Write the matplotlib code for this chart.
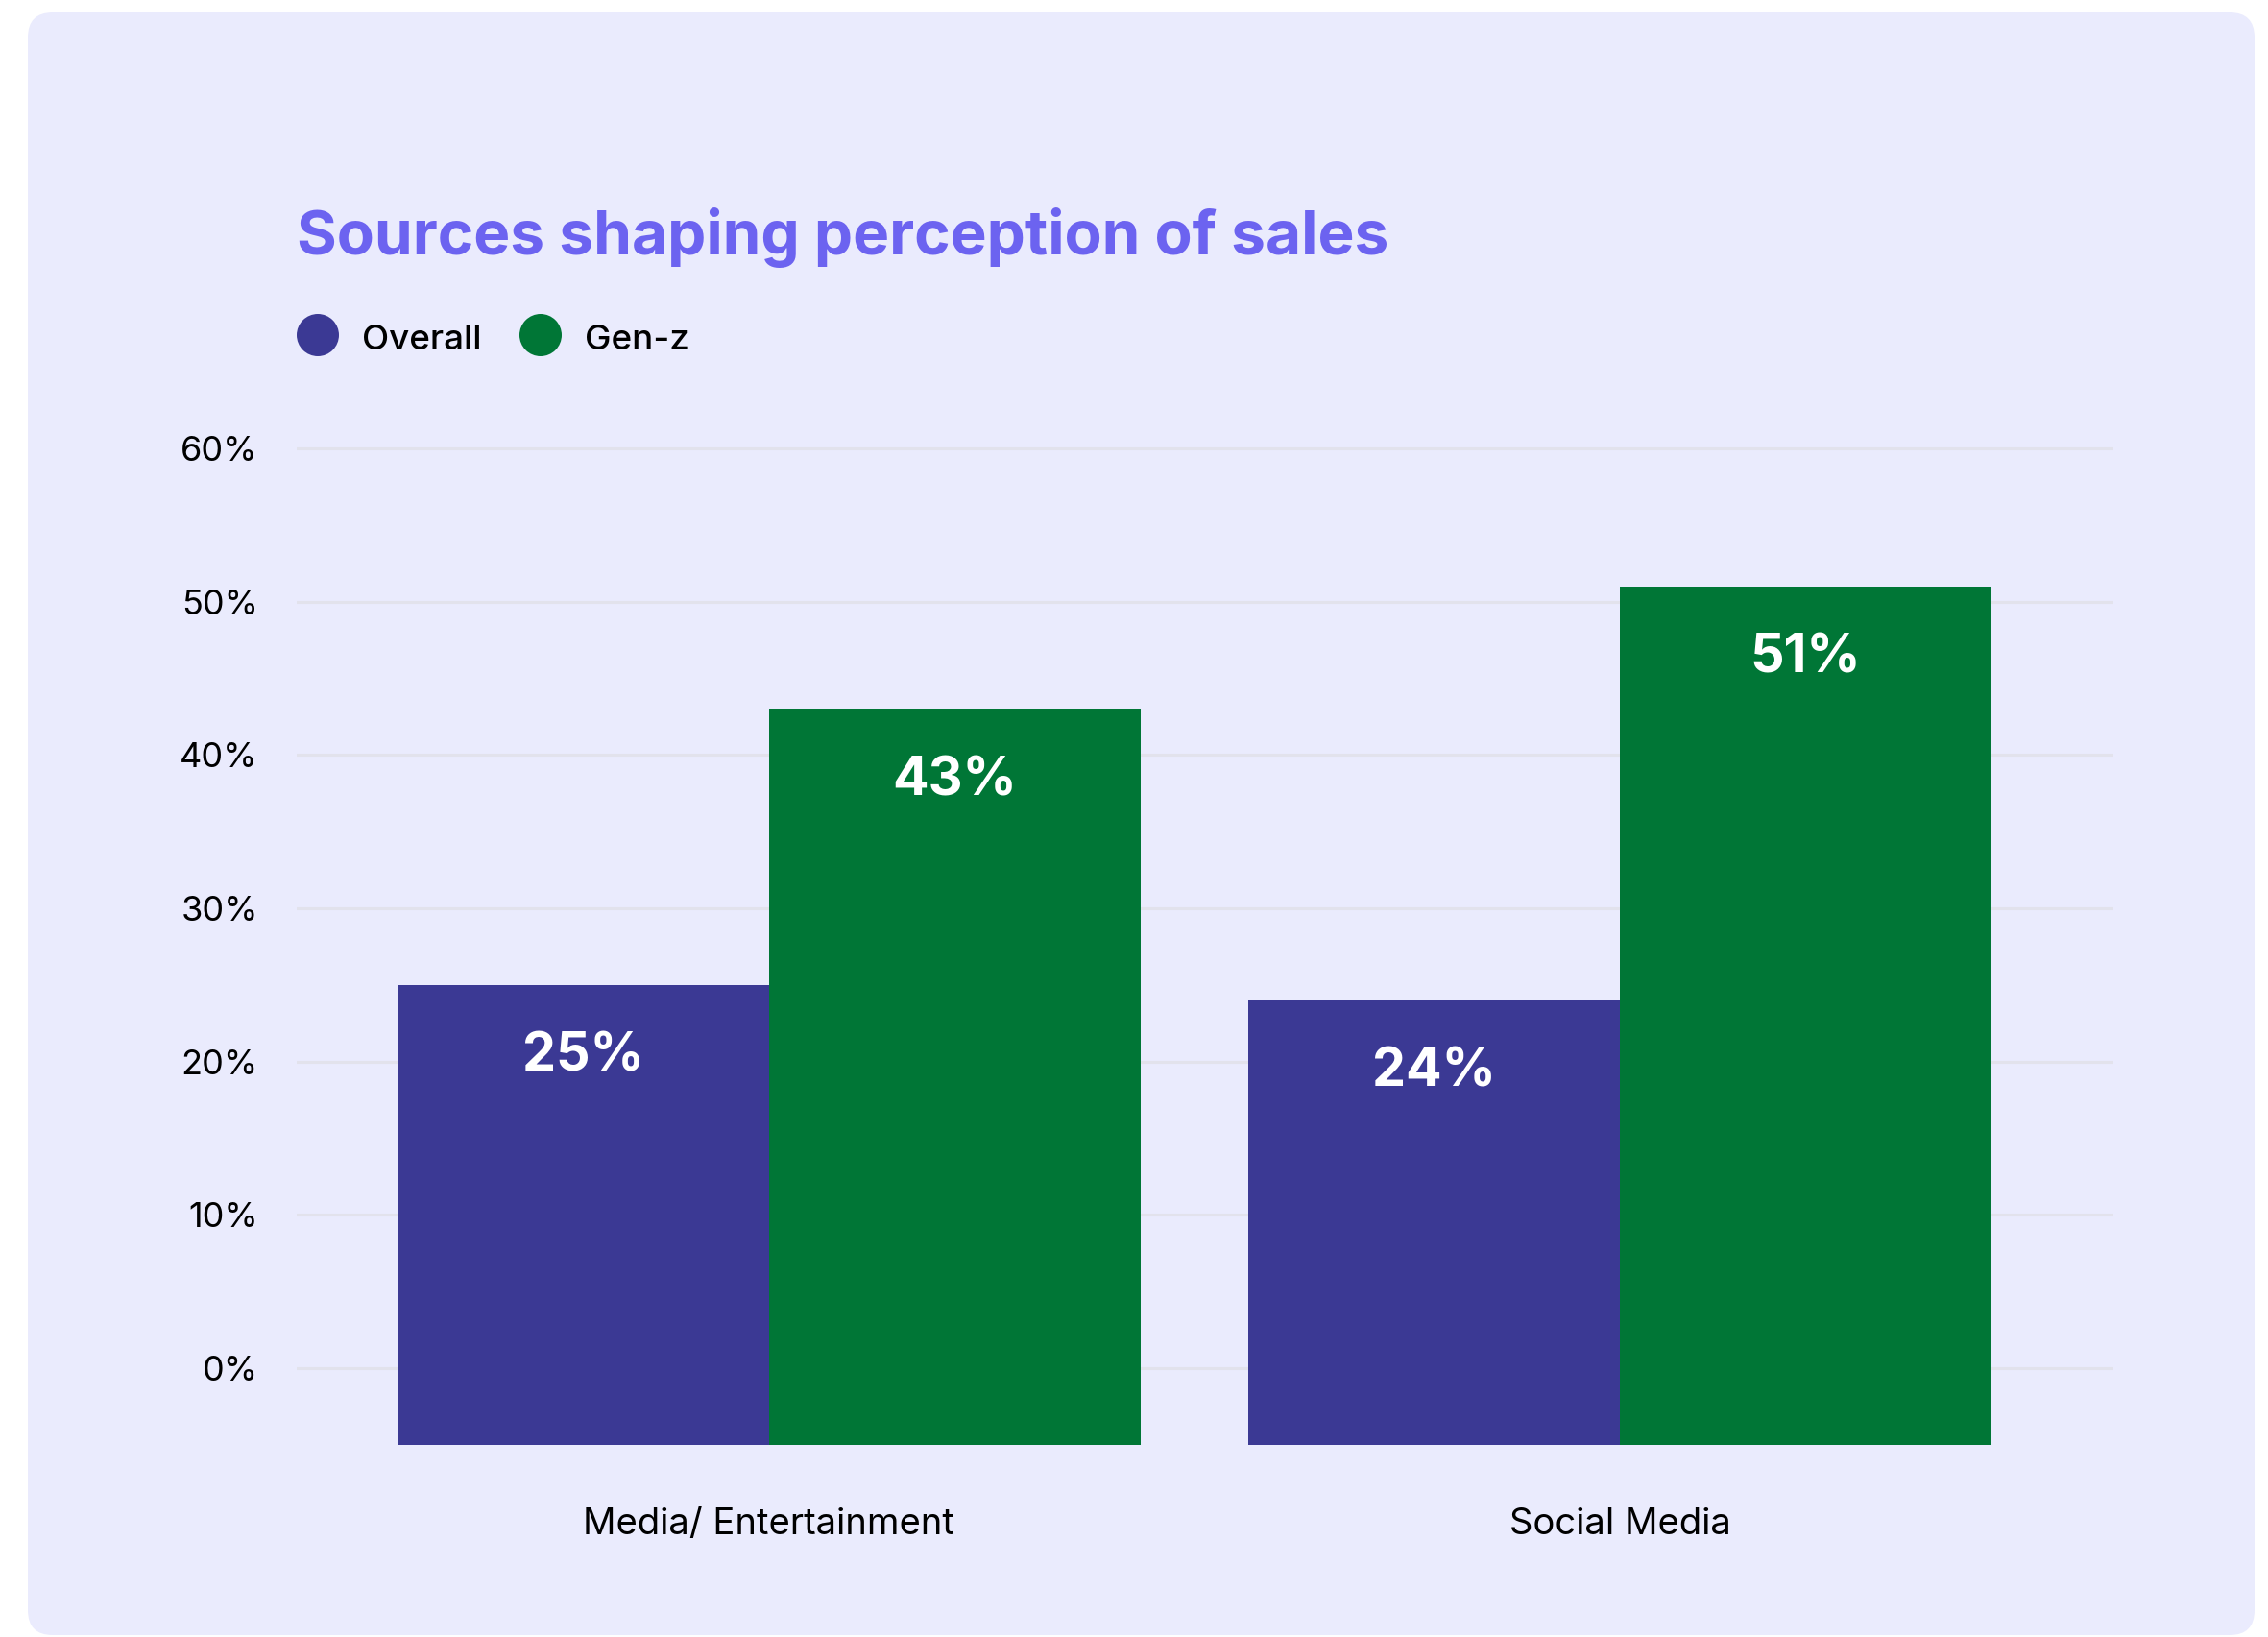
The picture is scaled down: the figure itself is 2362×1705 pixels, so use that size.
import matplotlib.pyplot as plt
import numpy as np
from matplotlib.patches import FancyBboxPatch
from matplotlib.transforms import IdentityTransform

plt.rcParams['font.family'] = ['Inter', 'DejaVu Sans']

categories = ['Media/ Entertainment', 'Social Media']
series_names = ['Overall', 'Gen-z']
overall = [25, 24]
gen_z = [43, 51]
y_ticks = [0, 10, 20, 30, 40, 50, 60]

card_color = '#EAEBFD'
bar_colors = ['#3B3994', '#007636']
title_color = '#6C63F0'
grid_color = '#E2E2EC'

W, H = 2362, 1705
fig = plt.figure(figsize=(W / 100, H / 100), dpi=100)
fig.patch.set_facecolor('white')

# rounded card behind everything (pixel coords)
card = FancyBboxPatch((29, 2), 2348 - 29, 1705 - 13 - 2,
                      boxstyle='round,pad=0,rounding_size=26',
                      transform=IdentityTransform(), facecolor=card_color,
                      edgecolor='none', zorder=-5)
fig.patches.append(card)

# axes placed in pixel terms
left, right = 309, 2201
top_px, bottom_px = 459, 1505
ax = fig.add_axes([left / W, (H - bottom_px) / H, (right - left) / W, (bottom_px - top_px) / H])
ax.set_facecolor('none')
ax.set_zorder(2)

base = -5
x = np.arange(len(categories))
width = 0.437
series = [overall, gen_z]
for i, vals in enumerate(series):
    xs = x + (i - 0.5) * width
    vals = np.array(vals)
    ax.bar(xs, vals - base, bottom=base, width=width, color=bar_colors[i], zorder=3)
    for xv, v in zip(xs, vals):
        ax.annotate(f'{v}%', (xv, v), xytext=(0, -54), textcoords='offset points',
                    ha='center', va='center', color='white', fontsize=40,
                    fontweight='bold', zorder=4)

ax.set_xlim(-0.555, 1.580)
ax.set_ylim(base, 60.5)
ax.set_yticks(y_ticks)
ax.set_yticklabels([f'{t}%' for t in y_ticks], fontsize=26, color='black')
ax.set_xticks(x)
ax.set_xticklabels(categories, fontsize=27.5, color='black')
ax.tick_params(axis='y', length=0, pad=29)
ax.tick_params(axis='x', length=0, pad=47)
for t in y_ticks:
    ax.axhline(t, color=grid_color, linewidth=2.2, zorder=1)
for s in ax.spines.values():
    s.set_visible(False)

# title and legend
fig.text(309 / W, (H - 265) / H, 'Sources shaping perception of sales',
         fontsize=46, fontweight='bold', color=title_color, ha='left', va='baseline')
leg_x = [331, 563]
leg_y = H - 349
for lx, name, c in zip(leg_x, series_names, bar_colors):
    fig.patches.append(plt.Circle((lx, leg_y), 22, transform=IdentityTransform(),
                                  facecolor=c, edgecolor='none'))
    fig.text((lx + 46) / W, (leg_y - 5) / H, name, fontsize=26.5, color='black',
             ha='left', va='center', fontweight='medium')

fig.savefig('out.png', dpi=100, facecolor=fig.get_facecolor())
